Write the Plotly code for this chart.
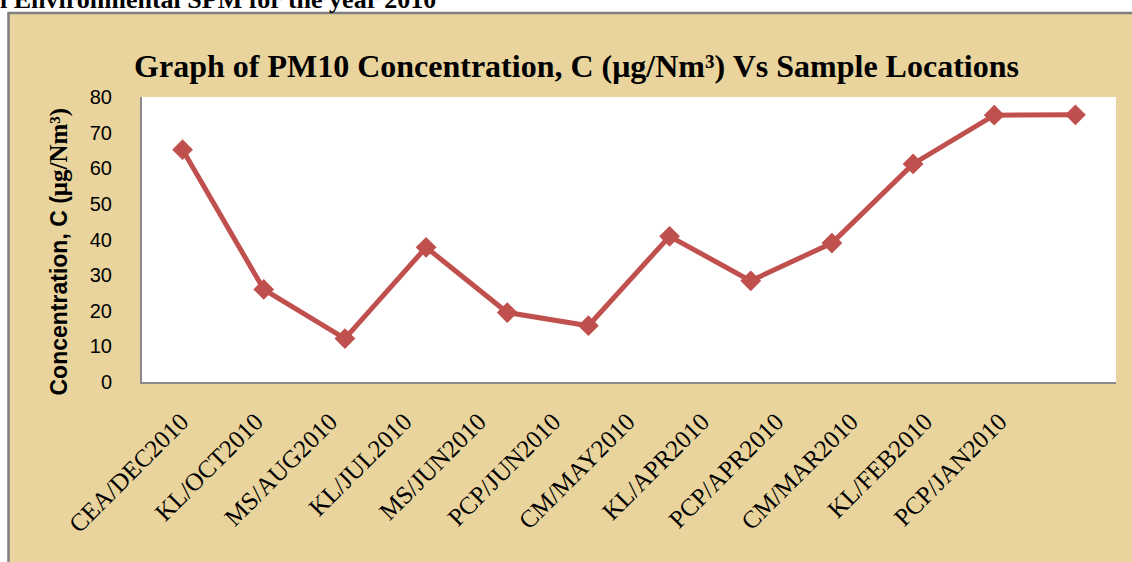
import plotly.graph_objects as go

# ---- data ----
locations = ["CEA/DEC2010", "KL/OCT2010", "MS/AUG2010", "KL/JUL2010", "MS/JUN2010",
             "PCP/JUN2010", "CM/MAY2010", "KL/APR2010", "PCP/APR2010", "CM/MAR2010",
             "KL/FEB2010", "PCP/JAN2010"]
pm10 = [65.2, 26, 12.2, 37.8, 19.5, 15.8, 40.9, 28.4, 39.0, 61.2, 74.9, 75.0]
y_ticks = [0, 10, 20, 30, 40, 50, 60, 70, 80]

W, H = 1132, 562
L, R, T, B = 142, 16, 97, 180
PW, PH = W - L - R, H - T - B

def px(x):
    return (x - L) / PW

def py(y):
    return (H - B - y) / PH

RED = "#C0504D"
TAN = "#E9D49D"

idx = list(range(len(locations)))

fig = go.Figure()
fig.add_trace(go.Scatter(
    x=locations, y=pm10, mode="lines+markers",
    line=dict(color=RED, width=5),
    marker=dict(symbol="diamond", size=16, color=RED),
    showlegend=False, hoverinfo="x+y"))
# invisible companion trace carrying the label axis
fig.add_trace(go.Scatter(
    x=idx, y=pm10, xaxis="x2", mode="markers",
    marker=dict(opacity=0), showlegend=False, hoverinfo="skip"))

# label axis spacing (labels in the reference are spaced slightly tighter than the points)
step = 74.38
first_end = 200.3
off = 19.0
r0 = (L - first_end + off) / step
r1 = r0 + PW / step

fig.update_layout(
    width=W, height=H,
    margin=dict(l=L, r=R, t=T, b=B),
    paper_bgcolor="white",
    plot_bgcolor="white",
    title=dict(
        text="Graph of PM10 Concentration, C (μg/Nm³) Vs Sample Locations",
        font=dict(family="Liberation Serif", size=32, color="black", weight="bold"),
        x=576.5 / W, xanchor="center", xref="container",
        y=1 - 66 / H, yanchor="middle", yref="container"),
    xaxis=dict(type="category", range=[-0.5, len(locations) - 0.5],
               showticklabels=False, showgrid=False, zeroline=False,
               showline=True, linecolor="#8A8A8A", linewidth=2, ticks=""),
    xaxis2=dict(overlaying="x", anchor="y", side="bottom", range=[r0, r1],
                tickmode="array", tickvals=idx, ticktext=locations,
                tickangle=-45, showgrid=False, zeroline=False, showline=False,
                ticks="", ticklabelstandoff=19,
                tickfont=dict(family="Liberation Serif", size=25, color="black")),
    yaxis=dict(range=[0, 80], tickmode="array", tickvals=y_ticks,
               showgrid=False, zeroline=False, showline=True,
               linecolor="#8A8A8A", linewidth=2, ticks="", ticklabelstandoff=24,
               tickfont=dict(family="Liberation Sans", size=20, color="black")),
    shapes=[
        dict(type="rect", xref="paper", yref="paper", layer="below",
             x0=px(8.5), x1=px(W + 20), y0=py(13), y1=py(H + 20),
             fillcolor=TAN, line=dict(color="#7F7F7F", width=2.5)),
        dict(type="rect", xref="paper", yref="paper", layer="below",
             x0=0, x1=1, y0=0, y1=1, fillcolor="white", line=dict(width=0)),
    ],
    annotations=[
        dict(text="l Environmental SPM for the year 2010", xref="paper", yref="paper",
             x=px(-2), y=py(16), xanchor="left", yanchor="bottom", showarrow=False,
             font=dict(family="Liberation Serif", size=26, color="black", weight="bold")),
        dict(text="Concentration, C (<span style='font-family:Liberation Serif;font-size:25px'>μg/Nm³)</span>",
             xref="paper", yref="paper", x=px(58), y=py(251.5),
             xanchor="center", yanchor="middle", textangle=-90, showarrow=False,
             font=dict(family="Liberation Sans", size=23, color="black", weight="bold")),
    ],
)

fig.write_html("out.html", config={"displayModeBar": False},
               post_script="document.body.style.margin='0px';")
